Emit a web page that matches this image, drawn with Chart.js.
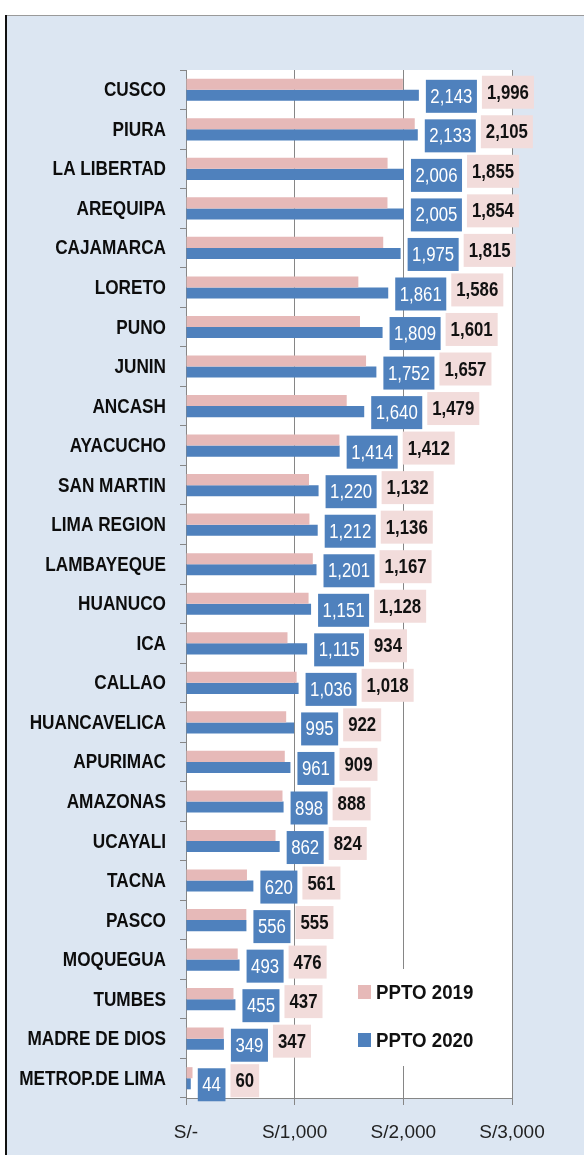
<!DOCTYPE html>
<html>
<head>
<meta charset="utf-8">
<script src="https://cdn.jsdelivr.net/npm/chart.js@4/dist/chart.umd.min.js"></script>
<style>
  html, body { margin: 0; padding: 0; background: #ffffff; }
  #wrap { width: 584px; height: 1155px; }
</style>
</head>
<body>
<div id="wrap"><canvas id="c" width="584" height="1155"></canvas></div>
<script>
const categories = ['CUSCO','PIURA','LA LIBERTAD','AREQUIPA','CAJAMARCA','LORETO','PUNO','JUNIN','ANCASH','AYACUCHO','SAN MARTIN','LIMA REGION','LAMBAYEQUE','HUANUCO','ICA','CALLAO','HUANCAVELICA','APURIMAC','AMAZONAS','UCAYALI','TACNA','PASCO','MOQUEGUA','TUMBES','MADRE DE DIOS','METROP.DE LIMA'];
const ppto2019 = [1996,2105,1855,1854,1815,1586,1601,1657,1479,1412,1132,1136,1167,1128,934,1018,922,909,888,824,561,555,476,437,347,60];
const ppto2020 = [2143,2133,2006,2005,1975,1861,1809,1752,1640,1414,1220,1212,1201,1151,1115,1036,995,961,898,862,620,556,493,455,349,44];
const seriesNames = ['PPTO 2019','PPTO 2020'];
const xTickValues = [0,1000,2000,3000];
const xTickLabels = ['S/-','S/1,000','S/2,000','S/3,000'];

const FAM = '"Liberation Sans",Arial,sans-serif';
const PINK = '#e6b9b8', BLUE = '#4f81bd', PINK_LBL = '#f2dcdb', GRID = '#868686';

const fmt = v => v.toLocaleString('en-US');

function squeezeText(ctx, text, x, y, align, sx) {
  ctx.save();
  ctx.translate(x, y);
  ctx.scale(sx, 1);
  ctx.textAlign = align;
  ctx.textBaseline = 'middle';
  ctx.fillText(text, 0, 0);
  ctx.restore();
}

const framePlugin = {
  id: 'frame',
  beforeDraw(chart) {
    const ctx = chart.ctx, a = chart.chartArea;
    ctx.save();
    ctx.fillStyle = '#ffffff';
    ctx.fillRect(0, 0, chart.width, chart.height);
    ctx.fillStyle = '#dce6f2';
    ctx.fillRect(7, 16, chart.width - 7, chart.height - 16);
    ctx.fillStyle = '#9a9a9a';
    ctx.fillRect(7, 15, chart.width - 7, 1);
    ctx.fillStyle = '#111111';
    ctx.fillRect(5, 15, 2, chart.height - 15);
    ctx.fillStyle = '#ffffff';
    ctx.fillRect(a.left, a.top, a.right - a.left, a.bottom - a.top);
    ctx.restore();
  },
  afterDraw(chart) {
    // category labels (condensed, like the original)
    const ctx = chart.ctx, ys = chart.scales.y;
    ctx.save();
    ctx.fillStyle = '#0d0d0d';
    ctx.font = 'bold 20px ' + FAM;
    chart.data.labels.forEach((lab, i) => {
      squeezeText(ctx, lab, 166, ys.getPixelForValue(i) + 1, 'right', 0.86);
    });
    ctx.restore();
  }
};

const labelPlugin = {
  id: 'vlabels',
  afterDatasetsDraw(chart) {
    const ctx = chart.ctx;
    const m0 = chart.getDatasetMeta(0), m1 = chart.getDatasetMeta(1);
    ctx.save();
    const h = 33, SX = 0.84;
    for (let i = 0; i < categories.length; i++) {
      const b1 = m1.data[i], b0 = m0.data[i];
      const t1 = fmt(chart.data.datasets[1].data[i]);
      ctx.font = '20px ' + FAM;
      const w1 = ctx.measureText(t1).width * SX + 9;
      const x1 = b1.x + 7;
      const yc1 = b1.y + 1;
      ctx.fillStyle = BLUE;
      ctx.fillRect(x1, yc1 - h / 2, w1, h);
      ctx.fillStyle = '#ffffff';
      squeezeText(ctx, t1, x1 + w1 / 2, yc1 + 1, 'center', SX);

      const t0 = fmt(chart.data.datasets[0].data[i]);
      ctx.font = 'bold 20px ' + FAM;
      const w0 = ctx.measureText(t0).width * SX + 10;
      const x0 = x1 + w1 + 5;
      const yc0 = b0.y + 8;
      ctx.fillStyle = PINK_LBL;
      ctx.fillRect(x0, yc0 - h / 2, w0, h);
      ctx.fillStyle = '#111111';
      squeezeText(ctx, t0, x0 + w0 / 2, yc0 + 1, 'center', SX);
    }
    ctx.restore();
  },
  afterDraw(chart) {
    const ctx = chart.ctx;
    ctx.save();
    ctx.fillStyle = '#ffffff';
    ctx.fillRect(352, 969, 150, 97);
    const items = [
      { y: 992, c: chart.data.datasets[0].backgroundColor, t: chart.data.datasets[0].label },
      { y: 1040, c: chart.data.datasets[1].backgroundColor, t: chart.data.datasets[1].label }
    ];
    ctx.font = 'bold 21px ' + FAM;
    items.forEach(it => {
      ctx.fillStyle = it.c;
      ctx.fillRect(358, it.y - 7, 13, 14);
      ctx.fillStyle = '#111111';
      squeezeText(ctx, it.t, 376, it.y + 1, 'left', 0.89);
    });
    ctx.restore();
  }
};

new Chart(document.getElementById('c'), {
  type: 'bar',
  data: {
    labels: categories,
    datasets: [
      { label: seriesNames[0], data: ppto2019, backgroundColor: PINK, borderWidth: 0 },
      { label: seriesNames[1], data: ppto2020, backgroundColor: BLUE, borderWidth: 0 }
    ]
  },
  options: {
    indexAxis: 'y',
    responsive: false,
    animation: false,
    devicePixelRatio: 1,
    layout: { padding: { top: 70, right: 72, bottom: 0, left: 0 } },
    datasets: { bar: { categoryPercentage: 0.56, barPercentage: 1.0 } },
    plugins: { legend: { display: false }, tooltip: { enabled: false } },
    scales: {
      x: {
        min: 0, max: 3000,
        afterBuildTicks(scale) { scale.ticks = xTickValues.map(v => ({ value: v })); },
        afterFit(scale) { scale.height = 57; },
        grid: { color: GRID, lineWidth: 1, tickLength: 7, drawOnChartArea: true },
        border: { display: true, color: GRID, width: 1 },
        ticks: {
          padding: 16,
          color: '#222222',
          font: { family: FAM, size: 19 },
          callback: (v, i) => xTickLabels[i]
        }
      },
      y: {
        afterFit(scale) { scale.width = 186; },
        grid: { display: true, drawOnChartArea: false, offset: true, tickLength: 6, color: GRID },
        border: { display: true, color: GRID, width: 1 },
        ticks: { display: false }
      }
    }
  },
  plugins: [framePlugin, labelPlugin]
});
</script>
</body>
</html>
